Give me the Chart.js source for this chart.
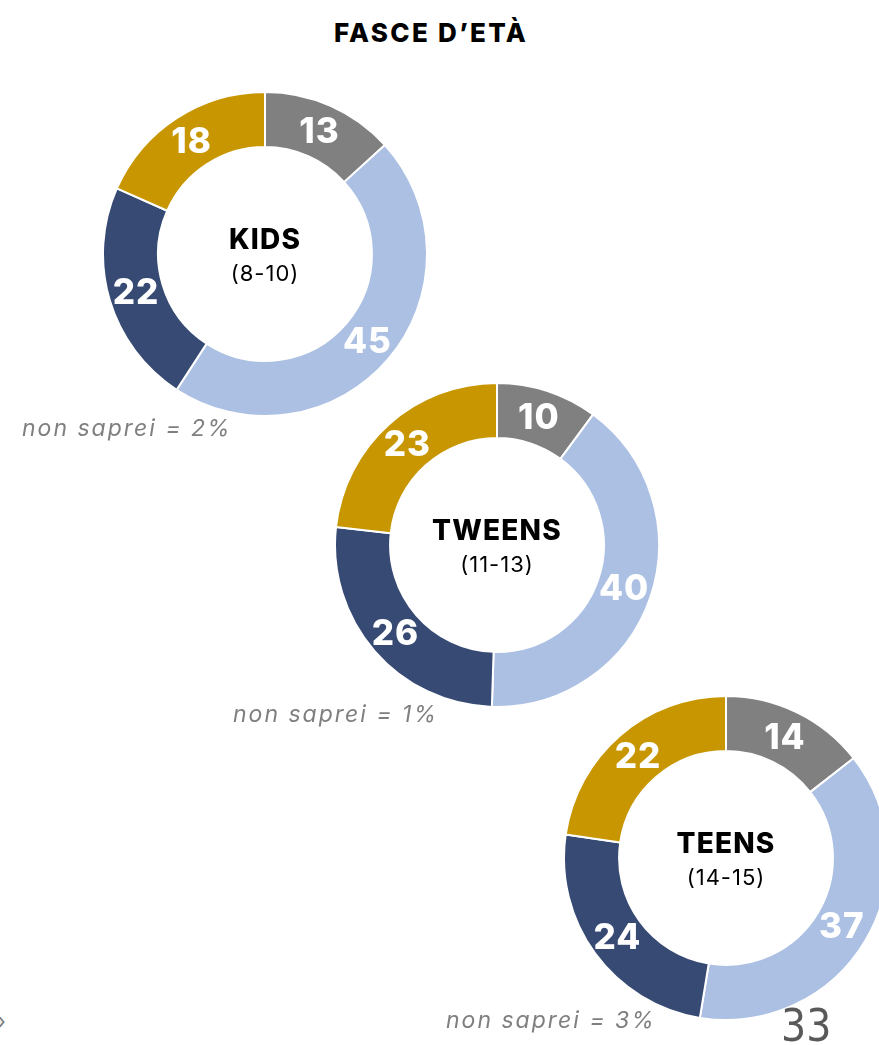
<!DOCTYPE html>
<html>
<head>
<meta charset="utf-8">
<script src="https://cdn.jsdelivr.net/npm/chart.js@4.4.0/dist/chart.umd.min.js"></script>
<style>
  html, body { margin: 0; padding: 0; background: #fff; }
  body { width: 879px; height: 1045px; position: relative; overflow: hidden; font-family: Inter, "Open Sans", sans-serif; }
  .title { position: absolute; left: 0; width: 862px; top: 17px; text-align: center; font-weight: 800; font-size: 26px; color: #000; letter-spacing: 2.3px; }
  .box { position: absolute; width: 326px; height: 326px; }
  .note { position: absolute; font-style: italic; font-size: 23px; letter-spacing: 2px; color: #7f7f7f; white-space: nowrap; }
  .page { position: absolute; left: 781px; top: 1000px; font-family: "Liberation Sans Narrow", "DejaVu Sans Condensed", sans-serif; font-size: 44px; color: #595959; }
  .mark { position: absolute; left: -7px; top: 1008px; font-size: 22px; color: #7f7f7f; }
</style>
</head>
<body>
<div class="title">FASCE D’ETÀ</div>

<div class="box" style="left:102px; top:91px;"><canvas id="chartKids"></canvas></div>
<div class="box" style="left:334px; top:382px;"><canvas id="chartTweens"></canvas></div>
<div class="box" style="left:563px; top:695px;"><canvas id="chartTeens"></canvas></div>

<div class="note" id="note0" style="left:22px; top:414px;"></div>
<div class="note" id="note1" style="left:233px; top:700px;"></div>
<div class="note" id="note2" style="left:446px; top:1006px;"></div>

<div class="page">33</div>
<div class="mark">»</div>

<script>
// age groups shown in the centre of each ring
const groups = ['KIDS', 'TWEENS', 'TEENS'];
const ranges = ['(8-10)', '(11-13)', '(14-15)'];

// four answers per ring, clockwise from 12 o'clock
const kidsValues = [13, 45, 22, 18];
const tweensValues = [10, 40, 26, 23];
const teensValues = [14, 37, 24, 22];

// "non saprei" share left out of each ring
const nonSaprei = [2, 1, 3];

const sliceColors = ['#808080', '#abc0e3', '#364a74', '#c79600'];

// writes the value in the middle of each slice and the group name in the hole
const ringText = {
  id: 'ringText',
  afterDatasetsDraw(chart, args, opts) {
    const ctx = chart.ctx;
    const meta = chart.getDatasetMeta(0);
    ctx.save();
    ctx.textAlign = 'center';
    ctx.textBaseline = 'middle';
    ctx.fillStyle = '#fff';
    ctx.font = '800 35px Inter, sans-serif';
    ctx.letterSpacing = '1px';
    meta.data.forEach((arc, i) => {
      const p = arc.getCenterPoint();
      ctx.fillText(chart.data.datasets[0].data[i], p.x, p.y + 1);
    });
    const c = meta.data[0];
    ctx.fillStyle = '#000';
    ctx.font = '800 28px Inter, sans-serif';
    ctx.letterSpacing = '1.2px';
    ctx.fillText(opts.group, c.x, c.y - 13);
    ctx.font = '400 22px Inter, sans-serif';
    ctx.letterSpacing = '1px';
    ctx.fillText(opts.range, c.x, c.y + 20);
    ctx.restore();
  }
};

function drawRing(id, values, idx) {
  const ctx = document.getElementById(id).getContext('2d');
  new Chart(ctx, {
    type: 'doughnut',
    data: {
      labels: ['a', 'b', 'c', 'd'],
      datasets: [{
        data: values,
        backgroundColor: sliceColors,
        borderColor: '#ffffff',
        borderWidth: 2
      }]
    },
    options: {
      responsive: true,
      maintainAspectRatio: false,
      animation: false,
      cutout: '66%',
      layout: { padding: 0 },
      plugins: {
        legend: { display: false },
        tooltip: { enabled: false },
        ringText: { group: groups[idx], range: ranges[idx] }
      }
    },
    plugins: [ringText]
  });
  document.getElementById('note' + idx).textContent = 'non saprei = ' + nonSaprei[idx] + '%';
}

drawRing('chartKids', kidsValues, 0);
drawRing('chartTweens', tweensValues, 1);
drawRing('chartTeens', teensValues, 2);
</script>
</body>
</html>
